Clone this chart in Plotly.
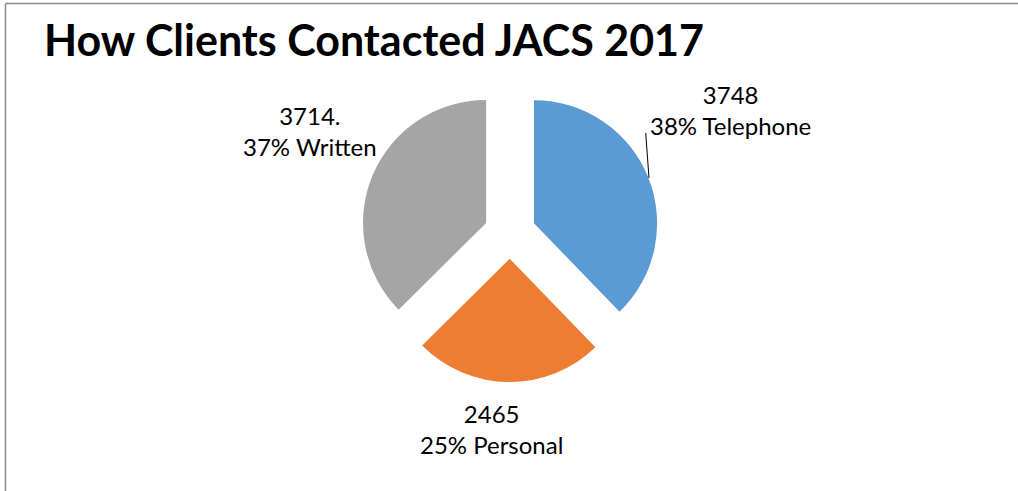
import plotly.graph_objects as go

W, H = 1018, 491

# Data
categories = ["Telephone", "Personal", "Written"]
values = [3748, 2465, 3714]
value_text = ["3748", "2465", "3714."]
colors = ["#5B9BD5", "#ED7D31", "#A5A5A5"]
title_text = "How Clients Contacted JACS 2017"

total = sum(values)
pcts = [round(v / total * 100) for v in values]


def px(x):
    return x / W


def py(y):
    return 1 - y / H


cx, cy = 510, 233
box = 298

fig = go.Figure()
fig.add_trace(go.Pie(
    labels=categories,
    values=values,
    sort=False,
    direction="clockwise",
    rotation=0,
    pull=[0.21, 0.21, 0.21],
    marker=dict(colors=colors, line=dict(width=0)),
    textinfo="none",
    hoverinfo="label+value+percent",
    showlegend=False,
    domain=dict(x=[px(cx - 250), px(cx + 250)], y=[py(cy + box / 2), py(cy - box / 2)]),
))

label_pos = [(730, 110), (491, 429), (310, 131)]
annotations = []
for (lx, ly), vt, p, c in zip(label_pos, value_text, pcts, categories):
    annotations.append(dict(
        x=px(lx), y=py(ly), xref="paper", yref="paper",
        text=f"{vt}<br>{p}% {c}", showarrow=False,
        xanchor="center", yanchor="middle", align="center",
        font=dict(family="Lato, 'Open Sans', sans-serif", size=24, color="#000000"),
    ))

annotations.append(dict(
    x=px(42), y=py(40), xref="paper", yref="paper",
    text=f"<b>{title_text}</b>", showarrow=False,
    xanchor="left", yanchor="middle",
    font=dict(family="Lato, 'Open Sans', sans-serif", size=43, color="#000000"),
))

shapes = [
    dict(type="line", xref="paper", yref="paper", x0=px(5.5), y0=py(3.5), x1=1, y1=py(3.5),
         line=dict(color="#8c8c8c", width=1.5)),
    dict(type="line", xref="paper", yref="paper", x0=px(5.5), y0=py(3.5), x1=px(5.5), y1=0,
         line=dict(color="#8c8c8c", width=1.5)),
    dict(type="line", xref="paper", yref="paper", x0=px(645.7), y0=py(133), x1=px(649), y1=py(178),
         line=dict(color="#000000", width=1)),
]

fig.update_layout(
    width=W, height=H,
    margin=dict(l=0, r=0, t=0, b=0),
    paper_bgcolor="#ffffff",
    plot_bgcolor="#ffffff",
    annotations=annotations,
    shapes=shapes,
)

fig.write_html("out.html", config={"displayModeBar": False},
               post_script="document.body.style.margin='0';")
